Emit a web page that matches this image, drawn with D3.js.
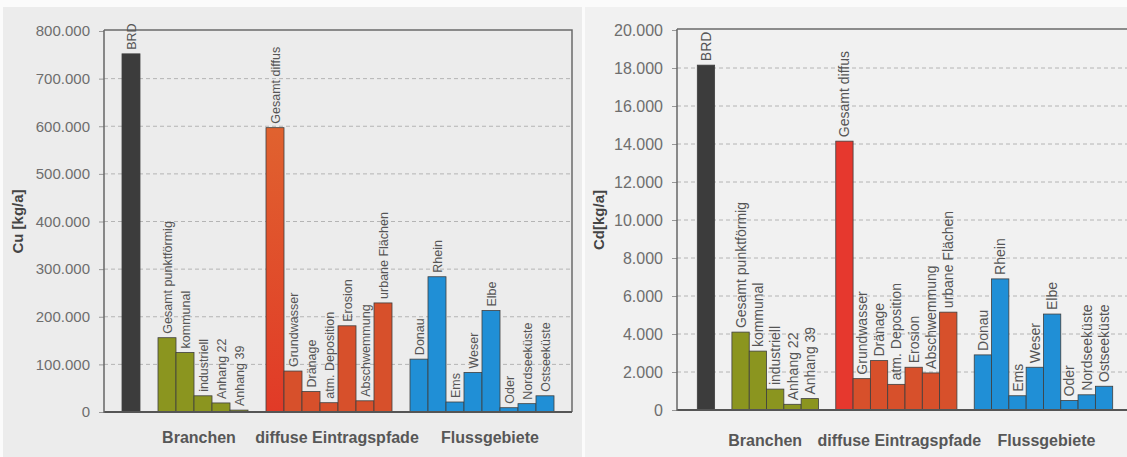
<!DOCTYPE html>
<html>
<head>
<meta charset="utf-8">
<script src="https://cdn.jsdelivr.net/npm/d3@7"></script>
<style>
  body { margin: 0; background: #fff; }
  svg { display: block; font-family: "Liberation Sans", Arial, sans-serif; }
</style>
</head>
<body>
<div id="chart"></div>
<script>
// Bars, in drawing order
const categories = ['BRD', 'Gesamt punktförmig', 'kommunal', 'industriell', 'Anhang 22', 'Anhang 39',
  'Gesamt diffus', 'Grundwasser', 'Dränage', 'atm. Deposition', 'Erosion', 'Abschwemmung', 'urbane Flächen',
  'Donau', 'Rhein', 'Ems', 'Weser', 'Elbe', 'Oder', 'Nordseeküste', 'Ostseeküste'];
const barGroups = ['BRD', 'Branchen', 'Branchen', 'Branchen', 'Branchen', 'Branchen',
  'diffuse Eintragspfade', 'diffuse Eintragspfade', 'diffuse Eintragspfade', 'diffuse Eintragspfade',
  'diffuse Eintragspfade', 'diffuse Eintragspfade', 'diffuse Eintragspfade',
  'Flussgebiete', 'Flussgebiete', 'Flussgebiete', 'Flussgebiete', 'Flussgebiete', 'Flussgebiete',
  'Flussgebiete', 'Flussgebiete'];
const groupLabels = ['Branchen', 'diffuse Eintragspfade', 'Flussgebiete'];

// Cu [kg/a]
const cuValues = [752000, 156000, 125000, 34000, 19000, 4000,
  597000, 86000, 43000, 19500, 181000, 23500, 229000,
  111000, 284000, 21000, 83000, 213000, 9000, 17500, 34000];
const cuTicks = [0, 100000, 200000, 300000, 400000, 500000, 600000, 700000, 800000];

// Cd [kg/a]
const cdValues = [18150, 4100, 3100, 1100, 300, 600,
  14150, 1650, 2600, 1350, 2250, 1950, 5150,
  2900, 6900, 750, 2250, 5050, 500, 800, 1250];
const cdTicks = [0, 2000, 4000, 6000, 8000, 10000, 12000, 14000, 16000, 18000, 20000];

const W = 1127, H = 457;
const de = d3.formatLocale({ decimal: ',', thousands: '.', grouping: [3], currency: ['', ''] });
const fmt = de.format(',');

const svg = d3.select('#chart').append('svg')
  .attr('width', W)
  .attr('height', H);

// paper background of the two panels
svg.append('rect').attr('x', 0).attr('y', 0).attr('width', W).attr('height', H).attr('fill', '#fbfbfb');
svg.append('rect').attr('x', 3).attr('y', 7).attr('width', 579).attr('height', 450).attr('fill', '#ececec');
svg.append('rect').attr('x', 585).attr('y', 7).attr('width', 542).attr('height', 450).attr('fill', '#f1f1f1');

const defs = svg.append('defs');
const grad = defs.append('linearGradient').attr('id', 'diffusGrad')
  .attr('x1', 0).attr('y1', 0).attr('x2', 0).attr('y2', 1);
grad.append('stop').attr('offset', '0%').attr('stop-color', '#e0622f');
grad.append('stop').attr('offset', '100%').attr('stop-color', '#e13a27');

function drawChart(o) {
  const g = svg.append('g');

  // slots: one empty slot before and after every group
  const slots = [];
  let last = null, gap = 0;
  categories.forEach((c, i) => {
    if (barGroups[i] !== last) { slots.push('gap' + (gap++)); last = barGroups[i]; }
    slots.push(c);
  });
  slots.push('gap' + gap);

  const x = d3.scaleBand().domain(slots).range([o.bandLeft, o.bandRight]).padding(0);
  const y = d3.scaleLinear().domain([0, d3.max(o.ticks)]).range([o.bottom, o.top]);

  // dashed grid
  g.selectAll('line.grid')
    .data(o.ticks.filter(t => t > 0 && t < d3.max(o.ticks)))
    .enter().append('line')
    .attr('class', 'grid')
    .attr('x1', o.left).attr('x2', o.right)
    .attr('y1', d => y(d)).attr('y2', d => y(d))
    .attr('stroke', '#b4b4b4')
    .attr('stroke-width', 1)
    .attr('stroke-dasharray', '4,3');

  // y axis
  const yAxis = d3.axisLeft(y).tickValues(o.ticks).tickFormat(fmt).tickSize(5).tickPadding(9);
  const ax = g.append('g')
    .attr('transform', `translate(${o.left},0)`)
    .call(yAxis);
  ax.select('.domain').remove();
  ax.selectAll('.tick line').attr('stroke', '#999');
  ax.selectAll('.tick text')
    .attr('fill', '#6e6e6e')
    .attr('font-size', o.tickSize)
    .attr('font-family', '"Liberation Sans", Arial, sans-serif');

  // frame
  g.append('path')
    .attr('d', `M${o.left},${y(d3.max(o.ticks)) - 1}H${o.right}V${o.bottom}`)
    .attr('fill', 'none')
    .attr('stroke', '#6a6a6a')
    .attr('stroke-width', 1.5);

  // bars
  g.selectAll('rect.bar')
    .data(o.values)
    .enter().append('rect')
    .attr('class', 'bar')
    .attr('x', (d, i) => x(categories[i]))
    .attr('y', d => y(d))
    .attr('width', x.bandwidth())
    .attr('height', d => y(0) - y(d))
    .attr('fill', (d, i) => o.color(i))
    .attr('stroke', '#3f3f3f')
    .attr('stroke-width', 0.8);

  // axis lines over bars
  g.append('line')
    .attr('x1', o.left).attr('x2', o.right)
    .attr('y1', o.bottom).attr('y2', o.bottom)
    .attr('stroke', '#555').attr('stroke-width', 2);
  g.append('line')
    .attr('x1', o.left).attr('x2', o.left)
    .attr('y1', y(d3.max(o.ticks)) - 1).attr('y2', o.bottom + 1)
    .attr('stroke', '#666').attr('stroke-width', 1.5);

  // bar labels, vertical
  g.selectAll('text.barLabel')
    .data(o.values)
    .enter().append('text')
    .attr('class', 'barLabel')
    .attr('transform', (d, i) => `translate(${x(categories[i]) + x.bandwidth() / 2},${y(d) - 4}) rotate(-90)`)
    .attr('dy', '0.36em')
    .attr('text-anchor', 'start')
    .attr('fill', '#555')
    .attr('font-size', o.labelSize)
    .text((d, i) => categories[i]);

  // group labels under the axis
  g.selectAll('text.groupLabel')
    .data(groupLabels)
    .enter().append('text')
    .attr('class', 'groupLabel')
    .attr('x', gname => {
      const members = categories.filter((c, i) => barGroups[i] === gname);
      return (x(members[0]) + x(members[members.length - 1]) + x.bandwidth()) / 2;
    })
    .attr('dx', (d, i) => o.groupDx[i])
    .attr('y', o.bottom + o.groupOffset)
    .attr('text-anchor', 'middle')
    .attr('fill', '#575757')
    .attr('font-size', 16)
    .attr('font-weight', 'bold')
    .text(d => d);

  // y label
  g.append('text')
    .attr('transform', `translate(${o.yLabelX},${(o.top + o.bottom) / 2}) rotate(-90)`)
    .attr('text-anchor', 'middle')
    .attr('fill', '#444')
    .attr('font-size', 15)
    .attr('font-weight', 'bold')
    .text(o.yLabel);
}

const groupColor = {
  'BRD': '#3c3c3c',
  'Branchen': '#8b951f',
  'diffuse Eintragspfade': '#d7502b',
  'Flussgebiete': '#208fd6'
};

drawChart({
  values: cuValues, ticks: cuTicks, yLabel: 'Cu [kg/a]',
  left: 104, right: 572, bandLeft: 104, bandRight: 572,
  top: 31, bottom: 412, groupOffset: 31, yLabelX: 23,
  tickSize: 15, labelSize: 12.5, groupDx: [-4, 8, 8],
  color: i => i === 6 ? 'url(#diffusGrad)' : groupColor[barGroups[i]]
});

drawChart({
  values: cdValues, ticks: cdTicks, yLabel: 'Cd[kg/a]',
  left: 677, right: 1132, bandLeft: 680, bandRight: 1130,
  top: 30, bottom: 410, groupOffset: 36, yLabelX: 604,
  tickSize: 16, labelSize: 14, groupDx: [-10, 3, 3],
  color: i => i === 6 ? '#e6382e' : groupColor[barGroups[i]]
});
</script>
</body>
</html>
